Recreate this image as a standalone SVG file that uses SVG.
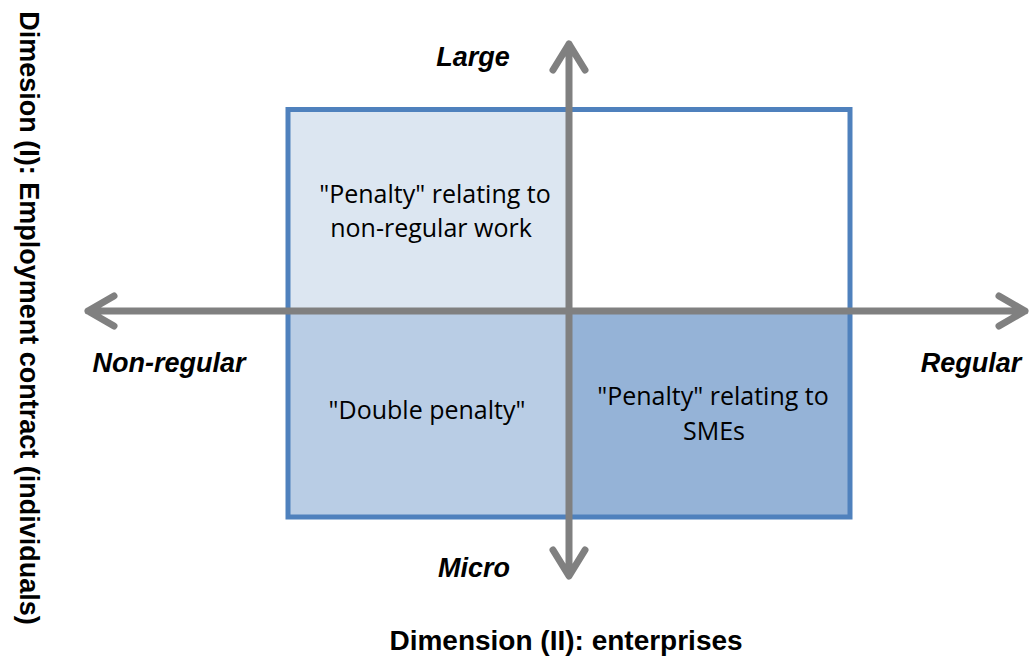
<svg xmlns="http://www.w3.org/2000/svg" width="1031" height="657" viewBox="0 0 1031 657">
<style>
.axis{stroke:#808080;stroke-width:7;fill:none;stroke-linecap:round;stroke-linejoin:round}
.lbl{font-family:"Liberation Sans",Arial,sans-serif;font-weight:bold;font-size:27px;fill:#000}
.ax{font-family:"Liberation Sans",Arial,sans-serif;font-weight:bold;font-style:italic;font-size:27px;fill:#000}
.q{font-family:"Open Sans","Liberation Sans",sans-serif;font-size:25px;fill:#000;text-anchor:middle}
</style>
<rect width="1031" height="657" fill="#fff"/>
<g id="quadrants">
<rect x="288" y="109.5" width="281" height="201.5" fill="#DCE6F1"/>
<rect x="569" y="109.5" width="281" height="201.5" fill="#FFFFFF"/>
<rect x="288" y="311" width="281" height="206" fill="#B9CDE5"/>
<rect x="569" y="311" width="281" height="206" fill="#95B3D7"/>
<rect x="288" y="109.5" width="562" height="407.5" fill="none" stroke="#4F81BD" stroke-width="5"/>
</g>
<g id="q1"><text class="q" x="435" y="203">"Penalty" relating to</text><text class="q" x="431" y="237">non-regular work</text></g>
<g id="q3"><text class="q" x="427" y="419">"Double penalty"</text></g>
<g id="q4"><text class="q" x="713" y="405">"Penalty" relating to</text><text class="q" x="714" y="440">SMEs</text></g>
<g id="connectors">
<path class="axis" d="M569 575V44M553 70L569 44L585 70M553 550L569 576L585 550"/>
<path class="axis" d="M88 311H1025M114 296L88 311L114 326M999 296L1025 311L999 326"/>
</g>
<g id="labels">
<text class="ax" x="473" y="66" text-anchor="middle">Large</text>
<text class="ax" x="474" y="577" text-anchor="middle">Micro</text>
<text class="ax" x="169" y="372" text-anchor="middle">Non-regular</text>
<text class="ax" x="971" y="372" text-anchor="middle">Regular</text>
<text class="lbl" x="566" y="650" text-anchor="middle" style="font-size:28px">Dimension (II): enterprises</text>
<text class="lbl" transform="translate(20,318) rotate(90)" text-anchor="middle">Dimesion (I): Employment contract (individuals)</text>
</g>
</svg>
